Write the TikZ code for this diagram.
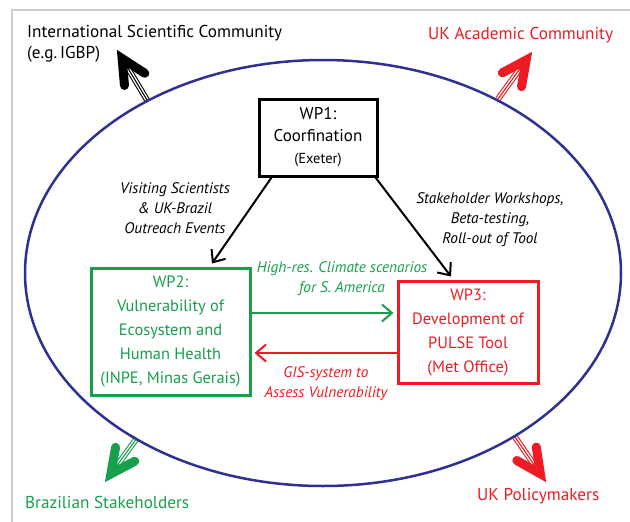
\documentclass[tikz,border=0pt]{standalone}
\usepackage{fontspec}
\setmainfont{PT Sans}
\usetikzlibrary{arrows.meta,calc}
\definecolor{navy}{RGB}{46,49,146}
\definecolor{wpgreen}{RGB}{22,160,75}
\definecolor{wpred}{RGB}{237,28,36}
\definecolor{framegray}{RGB}{205,205,205}

% Outward dissemination arrow: triple-line shaft and a heavy chevron head
% #1 colour, #2 base coordinate (on the ellipse), #3 tip coordinate
\newcommand\spreadarrow[3]{%
  \coordinate (v) at ($(#3)!10pt!(#2)$);
  \draw[#1, line width=6pt] (#2) -- (v);
  \draw[white, line width=3.8pt] (#2) -- (v);
  \draw[#1, line width=1.1pt] (#2) -- (v);
  \draw[#1, line width=9pt, line cap=round, line join=miter]
    ($(v)!27pt!26:(#2)$) -- (v) -- ($(v)!27pt!-26:(#2)$);
}

\begin{document}
\begin{tikzpicture}[x=1pt,y=-1pt,
  wpbox/.style={draw, line width=3pt, inner sep=0pt, align=center},
  flow/.style={line width=2pt, -{Straight Barb[length=10pt,width=17pt]}},
  note/.style={align=center, inner sep=0pt, font=\itshape\fontsize{15.3}{20}\selectfont},
  tag/.style={anchor=base west, inner sep=0pt, font=\fontsize{17.2}{19}\selectfont},
]
\useasboundingbox (0,0) rectangle (630,522);

% partial frame
\draw[framegray, line width=2pt] (12,522) -- (12,10) -- (630,10);

% outward arrows
\coordinate (iscB) at (147,100);   \coordinate (iscT) at (117,50);
\coordinate (ukacB) at (498,99);   \coordinate (ukacT) at (532,52);
\coordinate (brazB) at (137,438);  \coordinate (brazT) at (105,482);
\coordinate (ukpolB) at (515,437); \coordinate (ukpolT) at (546,482);
\spreadarrow{black}{iscB}{iscT}
\spreadarrow{wpred}{ukacB}{ukacT}
\spreadarrow{wpgreen}{brazB}{brazT}
\spreadarrow{wpred}{ukpolB}{ukpolT}

% project boundary
\draw[navy, line width=2.5pt] (323,273) ellipse [x radius=298pt, y radius=213pt];

% work packages
\node[wpbox, minimum width=118pt, minimum height=77pt,
      font=\fontsize{17}{22}\selectfont] (wp1) at (318,137.5)
  {WP1:\\Coorfination\\{\fontsize{14.5}{22}\selectfont (Exeter)}};
\node[wpbox, wpgreen, minimum width=159pt, minimum height=127pt,
      font=\fontsize{16.4}{24}\selectfont] (wp2) at (170.5,331.5)
  {WP2:\\Vulnerability of\\Ecosystem and\\Human Health\\(INPE, Minas Gerais)};
\node[wpbox, wpred, minimum width=140pt, minimum height=102pt,
      font=\fontsize{16.4}{24}\selectfont] (wp3) at (468,332)
  {WP3:\\Development of\\PULSE Tool\\(Met Office)};

% exchanges between work packages
\draw[flow, wpgreen, shorten >=3pt] ([yshift=18.5pt]wp2.east) -- ([yshift=18.5pt]wp2.east -| wp3.west);
\draw[flow, wpred, shorten >=3pt] ([yshift=-21.5pt]wp2.east -| wp3.west) -- ([yshift=-21.5pt]wp2.east);
\draw[flow] ([xshift=14pt]wp1.south west) -- ([xshift=41.5pt,yshift=3pt]wp2.north);
\draw[flow] ([xshift=-3pt]wp1.south east) -- ([xshift=-17pt,yshift=3pt]wp3.north);

% connector labels
\node[note, wpgreen] (lblclim) at (342,279) {High-res. Climate scenarios\\for S. America};
\node[note, wpred] (lblgis) at (326,384) {GIS-system to\\Assess Vulnerability};
\node[note] (lblvisit) at (175,208) {Visiting Scientists\\\& UK-Brazil\\Outreach Events};
\node[note] (lblstake) at (490,220) {Stakeholder Workshops,\\Beta-testing,\\Roll-out of Tool};

% audiences
\node[tag] (isc) at (27,37) {International Scientific Community};
\node[tag] (igbp) at (27,58) {(e.g.\,IGBP)};
\node[tag, wpred] (ukac) at (428,39) {UK Academic Community};
\node[tag, wpgreen] (braz) at (25,508) {Brazilian Stakeholders};
\node[tag, wpred] (ukpol) at (477,500) {UK Policymakers};
\end{tikzpicture}
\end{document}
